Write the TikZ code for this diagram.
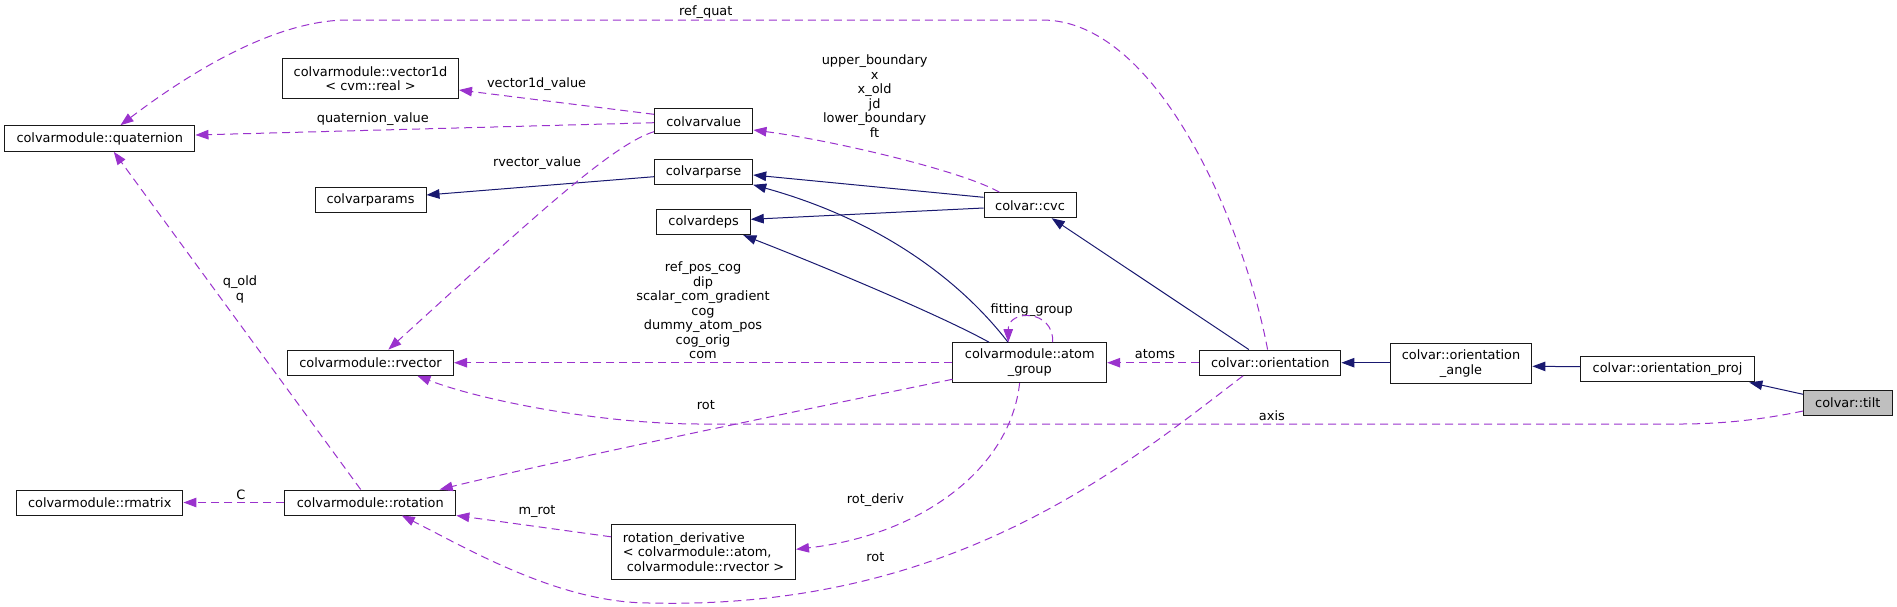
\documentclass[tikz,border=0pt]{standalone}
\usepackage{fontspec}
\setmainfont{DejaVu Sans}
\usetikzlibrary{arrows.meta,calc}
\definecolor{inh}{HTML}{191970}
\definecolor{use}{HTML}{9A32CD}
\begin{document}
\begin{tikzpicture}[x=1pt,y=-1pt,
  font=\fontsize{12.9}{14.5}\selectfont,
  box/.style={draw=black!90, fill=white, line width=1pt, inner sep=0pt, align=center},
  inhedge/.style={draw=inh, line width=1pt, -{Triangle[length=13pt,width=9.5pt]}},
  useedge/.style={draw=use, line width=1pt, dash pattern=on 8pt off 5pt, -{Triangle[length=13pt,width=9.5pt]}},
  lbl/.style={inner sep=0pt, align=center}]
\useasboundingbox (0,0) rectangle (1897,606);

% nodes
\node[box, minimum width=190.5pt, minimum height=25.6pt] (quat) at (99.7,138.5) {colvarmodule::quaternion};
\node[box, minimum width=176pt, minimum height=40pt] (vec1d) at (370.5,78.7) {colvarmodule::vector1d\\< cvm::real >};
\node[box, minimum width=111pt, minimum height=25.3pt] (params) at (370.5,199.7) {colvarparams};
\node[box, minimum width=98.5pt, minimum height=25pt] (value) at (703.7,121.2) {colvarvalue};
\node[box, minimum width=98.2pt, minimum height=25pt] (parse) at (703.6,171.8) {colvarparse};
\node[box, minimum width=93.3pt, minimum height=25pt] (deps) at (703.6,222.2) {colvardeps};
\node[box, minimum width=92pt, minimum height=25pt] (cvc) at (1030,205.2) {colvar::cvc};
\node[box, minimum width=166pt, minimum height=25.3pt] (rvec) at (370.5,362.7) {colvarmodule::rvector};
\node[box, minimum width=153.7pt, minimum height=40pt] (atomg) at (1029.8,362.7) {colvarmodule::atom\\\_group};
\node[box, minimum width=141.2pt, minimum height=25.3pt] (orient) at (1270.3,362.7) {colvar::orientation};
\node[box, minimum width=141.8pt, minimum height=40.3pt] (oangle) at (1461,363.8) {colvar::orientation\\\_angle};
\node[box, minimum width=173.3pt, minimum height=25.3pt] (oproj) at (1667.5,369.3) {colvar::orientation\_proj};
\node[box, fill=black!25, minimum width=88.4pt, minimum height=25.3pt] (tilt) at (1847.8,402.7) {colvar::tilt};
\node[box, minimum width=166.5pt, minimum height=25pt] (rmat) at (99.7,502.5) {colvarmodule::rmatrix};
\node[box, minimum width=171pt, minimum height=25pt] (rot) at (370.3,502.5) {colvarmodule::rotation};
\node[box, minimum width=184pt, minimum height=54.5pt, align=left] (rderiv) at (703.5,551.8) {rotation\_derivative\\< colvarmodule::atom,\\\hspace*{0.3em}colvarmodule::rvector >};

% labels
\node[lbl] (lrefquat) at (705.8,11.7) {ref\_quat};
\node[lbl] (lvec1d) at (536.6,84.3) {vector1d\_value};
\node[lbl] (lquatval) at (372.8,119.3) {quaternion\_value};
\node[lbl] (lrvecval) at (537,163.3) {rvector\_value};
\node[lbl] (lcvc) at (874.6,96.2) {upper\_boundary\\x\\x\_old\\jd\\lower\_boundary\\ft};
\node[lbl] (lq) at (240,289.5) {q\_old\\q};
\node[lbl] (lrefpos) at (703,310.3) {ref\_pos\_cog\\dip\\scalar\_com\_gradient\\cog\\dummy\_atom\_pos\\cog\_orig\\com};
\node[lbl] (lfit) at (1031.7,310) {fitting\_group};
\node[lbl] (latoms) at (1155,354.3) {atoms};
\node[lbl] (lrot1) at (705.8,404.7) {rot};
\node[lbl] (laxis) at (1271.9,415.7) {axis};
\node[lbl] (lC) at (241,494.3) {C};
\node[lbl] (lmrot) at (537,511.7) {m\_rot};
\node[lbl] (lrotderiv) at (875.4,500) {rot\_deriv};
\node[lbl] (lrot2) at (875.4,556.7) {rot};

% inheritance edges
\draw[inhedge] ($(parse.west)+(0,4.9)$) -- ($(params.east)+(0,-4.7)$);
\draw[inhedge] ($(cvc.west)+(0,-7.9)$) -- ($(parse.east)+(0,3.2)$);
\draw[inhedge] ($(cvc.west)+(0,2.8)$) -- ($(deps.east)+(0,-2.9)$);
\draw[inhedge] ($(atomg.north)+(-21.8,0)$) .. controls (960,280) and (880,220) .. (parse.south east);
\draw[inhedge] ($(atomg.north)+(-40.8,0)$) .. controls (940,315) and (820,265) .. ($(deps.south east)+(-7.4,0)$);
\draw[inhedge] ($(orient.north)+(-21.4,0)$) -- ($(cvc.south)+(21.7,0)$);
\draw[inhedge] (oangle.west |- orient.east) -- (orient.east);
\draw[inhedge] ($(oproj.west)+(0,-2.6)$) -- ($(oangle.east)+(0,2.5)$);
\draw[inhedge] ($(tilt.west)+(0,-8.4)$) -- ($(oproj.south east)+(-5.3,0)$);

% usage edges
\draw[useedge] ($(orient.north)+(-2.7,0)$) .. controls (1245,230) and (1160,20) .. (1042,20) -- (348,20) .. controls (270,20) and (180,80) .. ($(quat.north)+(20.8,0)$);
\draw[useedge] ($(value.west)+(0,-6.9)$) -- ($(vec1d.east)+(0,11.3)$);
\draw[useedge] ($(value.west)+(0,1.5)$) -- ($(quat.east)+(0,-3.5)$);
\draw[useedge] ($(value.west)+(0,10.5)$) .. controls (610,145) and (520,230) .. ($(rvec.north)+(17.9,0)$);
\draw[useedge] ($(cvc.north)+(-30.5,0)$) .. controls (960,170) and (830,140) .. ($(value.east)+(0,8.8)$);
\draw[useedge] ($(rot.north)+(-9.6,0)$) -- ($(quat.south)+(14.1,0)$);
\draw[useedge] (atomg.west) -- (rvec.east);
\draw[useedge] ($(atomg.north)+(22.9,0)$) .. controls (1054,309) and (1008,309) .. ($(atomg.north)+(-21.5,0)$);
\draw[useedge] (orient.west) -- (atomg.east);
\draw[useedge] ($(atomg.west)+(0,16.6)$) .. controls (850,400) and (560,460) .. ($(rot.north)+(69.4,0)$);
\draw[useedge] ($(tilt.west)+(0,8.3)$) .. controls (1760,420) and (1720,424) .. (1680,424) -- (700,424) .. controls (600,424) and (480,400) .. ($(rvec.south)+(46.9,0)$);
\draw[useedge] (rot.west) -- (rmat.east);
\draw[useedge] ($(rderiv.west)+(0,-15)$) -- (rot.south east);
\draw[useedge] ($(atomg.south)+(-10.2,0)$) .. controls (1010,470) and (920,535) .. ($(rderiv.east)+(0,-2.5)$);
\draw[useedge] ($(orient.south)+(-27.3,0)$) .. controls (1120,470) and (950,610) .. (650,603) .. controls (560,603) and (470,550) .. ($(rot.south)+(31.5,0)$);
\end{tikzpicture}
\end{document}
